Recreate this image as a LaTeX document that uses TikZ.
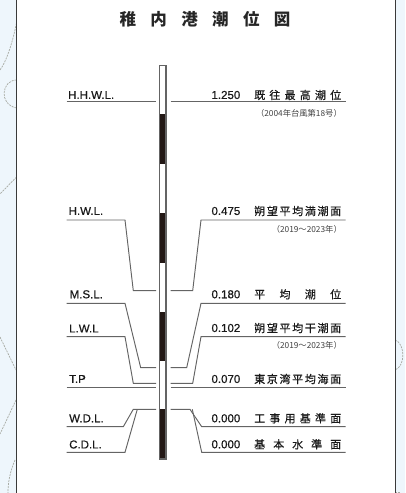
\documentclass[tikz,border=0pt]{standalone}
\usepackage{fontspec}
\setmainfont[UprightFeatures={FakeBold=0.6}]{Liberation Sans}
\newfontfamily\cjk[UprightFeatures={FakeBold=0.5}]{Noto Sans CJK JP}
\newfontfamily\cjktitle{Noto Sans CJK JP}
\newfontfamily\cjksub{Noto Sans CJK JP}
\definecolor{bgblue}{HTML}{EEF6FC}
\definecolor{lgray}{HTML}{646464}
\definecolor{frameg}{HTML}{3A3A3A}
\definecolor{curveg}{HTML}{A8ABA4}
\definecolor{staffk}{HTML}{231815}
\tikzset{
  level/.style={draw=lgray, line width=0.95pt, line join=miter},
  lbl/.style={inner sep=0pt, anchor=west, font=\fontsize{11.5}{12}\selectfont, text=black!90},
  val/.style={inner sep=0pt, anchor=east, font=\fontsize{11.5}{12}\selectfont, text=black!90},
  jp/.style={inner sep=0pt, anchor=west, font=\cjk\fontsize{11}{12}\selectfont, text=black!90},
  sub/.style={inner sep=0pt, anchor=east, font=\cjksub\fontsize{8.3}{9}\selectfont, text=black!75},
  deco/.style={draw=curveg, line width=0.7pt, dashed, dash pattern=on 2pt off 1pt},
}
\newcommand{\jspread}[1]{\makebox[87pt][l]{#1}}
\begin{document}
\begin{tikzpicture}[x=1pt,y=-1pt]
\useasboundingbox (0,0) rectangle (405,493);
% background bands
\fill[bgblue] (0,0) rectangle (16.7,493);
\fill[bgblue] (395,0) rectangle (405,493);
% decorative curves
\draw[deco] (16.5,23) .. controls (12,45) and (6,62) .. (0,70);
\draw[deco] (16.5,80) .. controls (2,80) and (-2,104) .. (16.5,108);
\draw[deco] (16.5,177) -- (0,194);
\draw[deco] (0,337) -- (16,370);
\draw[deco] (16,400) -- (0,434);
\draw[deco] (15,460) .. controls (10,472) and (8,482) .. (8,493);
\draw[deco] (395,340) .. controls (405,343) and (406,366) .. (395,370);
\draw[deco] (395,492) -- (400,492);
% frame
\draw[frameg, line width=0.8pt] (16.7,0) -- (16.7,493);
\draw[frameg, line width=0.8pt] (395,0) -- (395,493);
% title
\node[inner sep=0pt, font=\cjktitle\bfseries\fontsize{16.5}{17}\selectfont, text=black!85] (title) at (205,19.5)
  {\makebox[171pt][l]{稚\hfill 内\hfill 港\hfill 潮\hfill 位\hfill 図}};
% staff
\fill[white] (159.3,65.7) rectangle (166,459);
\foreach \a/\b in {114.3/163.9, 213/262.7, 311.8/361.4, 409.3/459}
  \fill[staffk] (159.3,\a) rectangle (166,\b);
\draw[lgray, line width=1.2pt] (159.3,65.7) rectangle (166,459);
% level lines left
\draw[level] (66.7,101) -- (155.7,101);
\draw[level] (66.7,220) -- (125,220) -- (133.3,290.7) -- (156,290.7);
\draw[level] (66.7,303.3) -- (125,303.3) -- (140.7,367.7) -- (156,367.7);
\draw[level] (66.7,336.7) -- (125,336.7) -- (133.3,383.3) -- (156,383.3);
\draw[level] (66.7,387.7) -- (156,387.7);
\draw[level] (66.7,426.7) -- (123.3,426.7) -- (133.3,409.3) -- (156,409.3);
\draw[level] (66.7,452.3) -- (125,452.3) -- (137.3,409.3);
% level lines right
\draw[level] (170.7,101) -- (345.7,101);
\draw[level] (170.7,290.7) -- (192.7,290.7) -- (201,220) -- (345.7,220);
\draw[level] (170.7,367.7) -- (186.7,367.7) -- (201,303.3) -- (345.7,303.3);
\draw[level] (170.7,383.3) -- (192.7,383.3) -- (201,336.7) -- (345.7,336.7);
\draw[level] (170.7,387.7) -- (345.7,387.7);
\draw[level] (170.7,409.3) -- (190,409.3) -- (201.7,426.7) -- (345.7,426.7);
\draw[level] (192.3,409.3) -- (201.7,452.3) -- (345.7,452.3);
% left labels
\node[lbl] (l1) at (68,95) {H.H.W.L.};
\node[lbl] (l2) at (68.5,211) {H.W.L.};
\node[lbl] (l3) at (69.5,294.3) {M.S.L.};
\node[lbl] (l4) at (69,328.5) {L.W.L};
\node[lbl] (l5) at (69,379) {T.P};
\node[lbl] (l6) at (69,418.3) {W.D.L.};
\node[lbl] (l7) at (69,444.5) {C.D.L.};
% values
\node[val] (v1) at (240.5,95) {1.250};
\node[val] (v2) at (240.5,211) {0.475};
\node[val] (v3) at (240.5,294.3) {0.180};
\node[val] (v4) at (240.5,328) {0.102};
\node[val] (v5) at (240.5,379) {0.070};
\node[val] (v6) at (240.5,418.3) {0.000};
\node[val] (v7) at (240.5,444.3) {0.000};
% japanese descriptions
\node[jp] (j1) at (254,95) {\jspread{既\hfill 往\hfill 最\hfill 高\hfill 潮\hfill 位}};
\node[jp] (j2) at (254,211) {\jspread{朔\hfill 望\hfill 平\hfill 均\hfill 満\hfill 潮\hfill 面}};
\node[jp] (j3) at (254,294.3) {\jspread{平\hfill 均\hfill 潮\hfill 位}};
\node[jp] (j4) at (254,328) {\jspread{朔\hfill 望\hfill 平\hfill 均\hfill 干\hfill 潮\hfill 面}};
\node[jp] (j5) at (254,379) {\jspread{東\hfill 京\hfill 湾\hfill 平\hfill 均\hfill 海\hfill 面}};
\node[jp] (j6) at (254,418.3) {\jspread{工\hfill 事\hfill 用\hfill 基\hfill 準\hfill 面}};
\node[jp] (j7) at (254,444.3) {\jspread{基\hfill 本\hfill 水\hfill 準\hfill 面}};
% subtitles
\node[sub] (s1) at (342,113.5) {（2004年台風第18号）};
\node[sub] (s2) at (342,229) {（2019～2023年）};
\node[sub] (s3) at (342,345.7) {（2019～2023年）};
\end{tikzpicture}
\end{document}
